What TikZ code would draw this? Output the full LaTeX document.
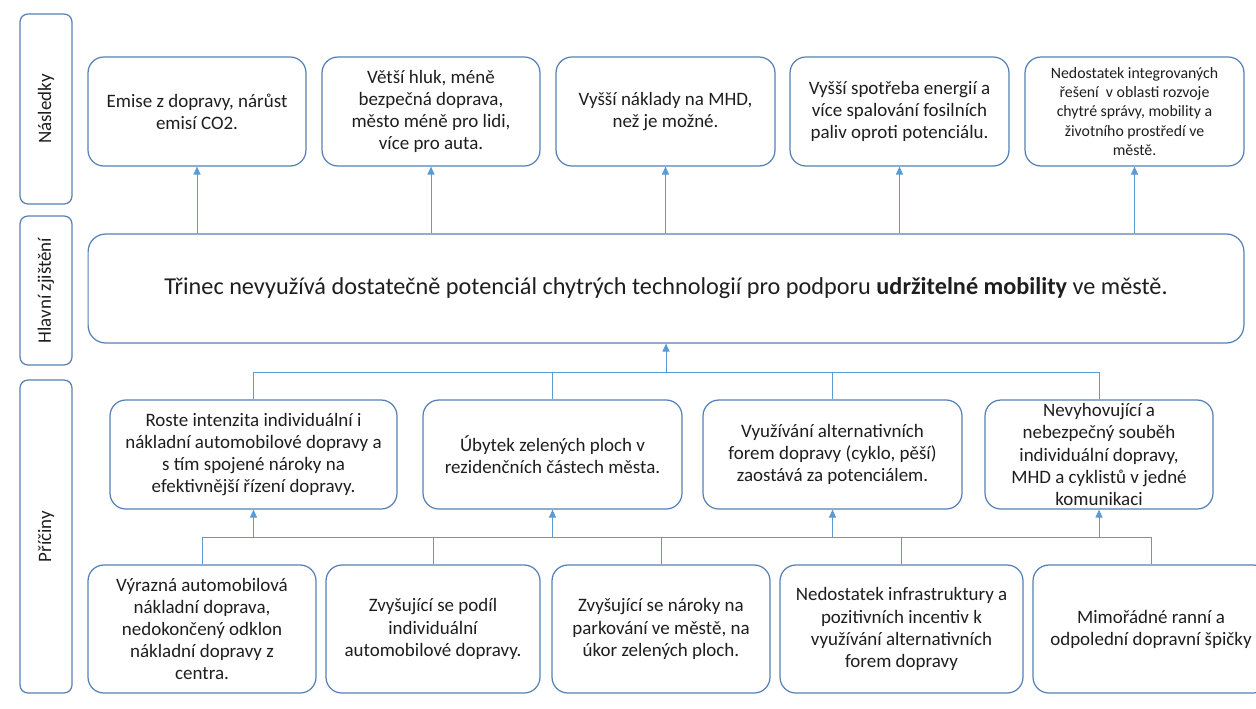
\documentclass[tikz,border=0pt]{standalone}
\usepackage{fontspec}
\setmainfont{Carlito}
\usetikzlibrary{positioning,arrows.meta,calc}
\definecolor{boxblue}{HTML}{5580B5}
\definecolor{linkblue}{HTML}{5B9BD5}
\definecolor{inkgray}{HTML}{1E1E1E}

\begin{document}
\begin{tikzpicture}[
    x=0.02cm, y=-0.02cm,
    every node/.style={font=\fontsize{10.8}{12.6}\selectfont, text=inkgray},
    card/.style={
        draw=boxblue, line width=0.7pt, rounded corners=9pt,
        align=center, inner sep=2pt, minimum width=#1
    },
    effect/.style={card=#1, minimum height=2.18cm},
    cause/.style={card=#1, minimum height=2.18cm},
    root/.style={card=#1, minimum height=2.56cm},
    lane/.style={
        draw=boxblue, line width=0.7pt, rounded corners=4.5pt,
        rotate=90, minimum width=#1, minimum height=1.04cm, inner sep=1pt
    },
    link/.style={-{Triangle[length=4.5pt,width=4pt]}, color=linkblue, line width=0.5pt},
    wire/.style={color=linkblue, line width=0.5pt},
]
\useasboundingbox (0,0) rectangle (1256,708);

% === Side lanes ===
\node[lane=3.8cm] (lnasledky) at (46,109) {Následky};
\node[lane=2.98cm] (lzjisteni) at (46,290.5) {Hlavní zjištění};
\node[lane=6.26cm] (lpriciny) at (46,536.5) {Příčiny};

% === Effects (top row) ===
\node[effect=4.36cm] (emise) at (197,111.5) {Emise z dopravy, nárůst\\emisí CO2.};
\node[effect=4.36cm] (hluk) at (431,111.5) {Větší hluk, méně\\bezpečná doprava,\\město méně pro lidi,\\více pro auta.};
\node[effect=4.38cm] (naklady) at (665.5,111.5) {Vyšší náklady na MHD,\\než je možné.};
\node[effect=4.38cm] (spotreba) at (899.5,111.5) {Vyšší spotřeba energií a\\více spalování fosilních\\paliv oproti potenciálu.};
\node[effect=4.38cm, font=\fontsize{9}{11}\selectfont] (reseni) at (1134.5,111.5) {Nedostatek integrovaných\\řešení~ v oblasti rozvoje\\chytré správy, mobility a\\životního prostředí ve\\městě.};

% === Main finding ===
\node[card=23.12cm, minimum height=2.18cm, rounded corners=10pt,
    font=\fontsize{13.8}{16}\selectfont] (zjisteni) at (666,288.5)
    {Třinec nevyužívá dostatečně potenciál chytrých technologií pro podporu \textbf{udržitelné mobility} ve městě.};

% === Causes (middle row) ===
\node[cause=5.74cm] (intenzita) at (253.5,454.5) {Roste intenzita individuální i\\nákladní automobilové dopravy a\\s tím spojené nároky na\\efektivnější řízení dopravy.};
\node[cause=5.18cm] (zelen) at (552.5,454.5) {Úbytek zelených ploch v\\rezidenčních částech města.};
\node[cause=5.18cm] (alternativy) at (832.5,454.5) {Využívání alternativních\\forem dopravy (cyklo, pěší)\\zaostává za potenciálem.};
\node[cause=4.56cm] (soubeh) at (1099,454.5) {Nevyhovující a\\nebezpečný souběh\\individuální dopravy,\\MHD a cyklistů v jedné\\komunikaci};

% === Root causes (bottom row) ===
\node[root=4.56cm] (nakladni) at (202,629) {Výrazná automobilová\\nákladní doprava,\\nedokončený odklon\\nákladní dopravy z\\centra.};
\node[root=4.28cm] (podil) at (433,629) {Zvyšující se podíl\\individuální\\automobilové dopravy.};
\node[root=4.36cm] (parkovani) at (661,629) {Zvyšující se nároky na\\parkování ve městě, na\\úkor zelených ploch.};
\node[root=4.86cm] (infra) at (901.5,629) {Nedostatek infrastruktury a\\pozitivních incentiv k\\využívání alternativních\\forem dopravy};
\node[root=4.72cm] (spicky) at (1151,629) {Mimořádné ranní a\\odpolední dopravní špičky};

% === Main finding -> effects ===
\foreach \t in {emise,hluk,naklady,spotreba,reseni}
    \draw[link] (zjisteni.north -| \t.south) -- (\t.south);

% === Causes -> main finding ===
\coordinate (topbus) at (0,372);
\draw[wire] (intenzita.north) -- (intenzita.north |- topbus) -- (soubeh.north |- topbus) -- (soubeh.north);
\foreach \m in {zelen,alternativy}
    \draw[wire] (\m.north) -- (\m.north |- topbus);
\draw[link] (zjisteni.south |- topbus) -- (zjisteni.south);

% === Root causes -> causes ===
\coordinate (lowbus) at (0,537);
\draw[wire] (nakladni.north) -- (nakladni.north |- lowbus) -- (spicky.north |- lowbus) -- (spicky.north);
\foreach \b in {podil,parkovani,infra}
    \draw[wire] (\b.north) -- (\b.north |- lowbus);
\foreach \m in {intenzita,zelen,alternativy,soubeh}
    \draw[link] (\m.south |- lowbus) -- (\m.south);

\end{tikzpicture}
\end{document}
